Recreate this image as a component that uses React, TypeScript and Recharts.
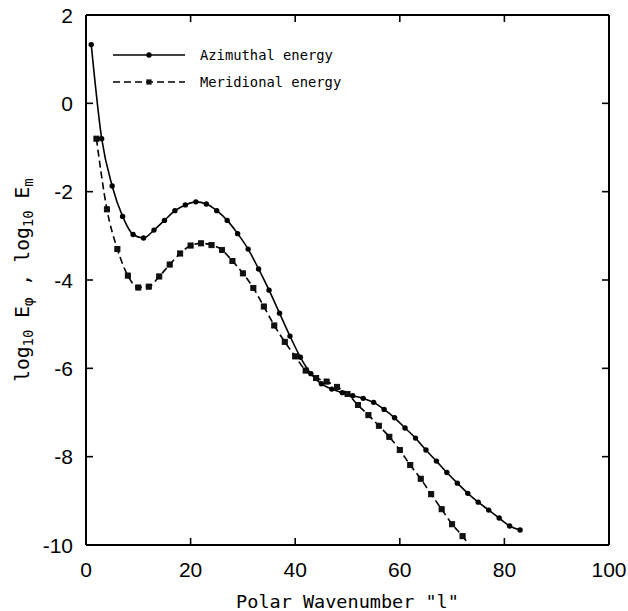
import React from 'react';
import { LineChart, Line, XAxis, YAxis, Legend } from 'recharts';

// Polar wavenumber l and log10 energies
const azimuthalL = [1, 3, 5, 7, 9, 11, 13, 15, 17, 19, 21, 23, 25, 27, 29, 31, 33, 35, 37, 39, 41, 43, 45, 47, 49, 51, 53, 55, 57, 59, 61, 63, 65, 67, 69, 71, 73, 75, 77, 79, 81, 83];
const azimuthalE = [1.33, -0.8, -1.87, -2.56, -2.97, -3.05, -2.87, -2.65, -2.43, -2.3, -2.23, -2.28, -2.43, -2.65, -2.95, -3.3, -3.75, -4.23, -4.75, -5.27, -5.75, -6.12, -6.35, -6.47, -6.55, -6.62, -6.68, -6.77, -6.93, -7.12, -7.35, -7.58, -7.85, -8.1, -8.36, -8.6, -8.83, -9.03, -9.21, -9.39, -9.57, -9.66];

const meridionalL = [2, 4, 6, 8, 10, 12, 14, 16, 18, 20, 22, 24, 26, 28, 30, 32, 34, 36, 38, 40, 42, 44, 46, 48, 50, 52, 54, 56, 58, 60, 62, 64, 66, 68, 70, 72, 74];
const meridionalE = [-0.8, -2.4, -3.3, -3.9, -4.17, -4.15, -3.92, -3.65, -3.4, -3.22, -3.17, -3.21, -3.32, -3.57, -3.85, -4.18, -4.6, -5.03, -5.4, -5.73, -6.05, -6.22, -6.3, -6.42, -6.58, -6.83, -7.06, -7.3, -7.55, -7.85, -8.19, -8.5, -8.85, -9.19, -9.53, -9.8, -10.12];

const xTicks = [0, 20, 40, 60, 80, 100];
const yTicks = [2, 0, -2, -4, -6, -8, -10];

const seriesNames = ['Azimuthal energy', 'Meridional energy'];
const xTitle = 'Polar Wavenumber "l"';

const azData = azimuthalL.map((l, i) => ({ l, e: azimuthalE[i] }));
const merData = meridionalL.map((l, i) => ({ l, e: meridionalE[i] }));

const MONO = '"DejaVu Sans Mono", monospace';
const SANS = '"Liberation Sans", Arial, sans-serif';

const XTickBottom = (props: any) => {
  const { x, y, payload } = props;
  const v = payload.value;
  return (
    <g>
      {v > 0 && v < 100 && <line x1={x} x2={x} y1={y} y2={y - 7} stroke="#000" strokeWidth={1.6} />}
      <text x={x} y={y + 32} textAnchor="middle" fontFamily={SANS} fontSize={21} fill="#000">{v}</text>
    </g>
  );
};

const XTickTop = (props: any) => {
  const { x, y, payload } = props;
  const v = payload.value;
  if (v <= 0 || v >= 100) return <g />;
  return <line x1={x} x2={x} y1={y} y2={y + 7} stroke="#000" strokeWidth={1.6} />;
};

const YTickLeft = (props: any) => {
  const { x, y, payload } = props;
  const v = payload.value;
  return (
    <g>
      {v < 2 && v > -10 && <line x1={x} x2={x + 7} y1={y} y2={y} stroke="#000" strokeWidth={1.6} />}
      <text x={x - 13} y={y + 7.5} textAnchor="end" fontFamily={SANS} fontSize={21} fill="#000">{v}</text>
    </g>
  );
};

const YTickRight = (props: any) => {
  const { x, y, payload } = props;
  const v = payload.value;
  if (v >= 2 || v <= -10) return <g />;
  return <line x1={x} x2={x - 7} y1={y} y2={y} stroke="#000" strokeWidth={1.6} />;
};

const CircleDot = (p: any) => (
  <circle key={`a${p.index}`} cx={p.cx} cy={p.cy} r={2.7} fill="#000" stroke="none" />
);
const SquareDot = (p: any) => (
  <rect key={`m${p.index}`} x={p.cx - 2.6} y={p.cy - 2.6} width={5.2} height={5.2} fill="#111" stroke="#000" strokeWidth={0.8} />
);

const LegendBox = () => (
  <svg width={260} height={56} style={{ display: 'block' }}>
    <line x1={13} x2={85} y1={15} y2={15} stroke="#000" strokeWidth={1.6} />
    <circle cx={49} cy={15} r={2.7} fill="#000" />
    <text x={100} y={15} dominantBaseline="central" fontFamily={MONO} fontSize={13.8} fill="#000">{seriesNames[0]}</text>
    <line x1={13} x2={85} y1={42} y2={42} stroke="#000" strokeWidth={1.6} strokeDasharray="7 4" />
    <rect x={46.4} y={39.4} width={5.2} height={5.2} fill="#111" />
    <text x={100} y={42} dominantBaseline="central" fontFamily={MONO} fontSize={13.8} fill="#000">{seriesNames[1]}</text>
  </svg>
);

const XTitle = (props: any) => {
  const vb = props.viewBox || {};
  return (
    <text x={vb.x + vb.width / 2} y={608} textAnchor="middle" fontFamily={MONO} fontSize={18.5} fill="#000">{xTitle}</text>
  );
};

const YTitle = (props: any) => {
  const vb = props.viewBox || {};
  const cy = vb.y + vb.height / 2;
  return (
    <text transform={`translate(29, ${cy}) rotate(-90)`} x={0} y={0} textAnchor="middle" fontFamily={MONO} fontSize={19.5} fill="#000">
      log<tspan fontSize={14} dy={4}>10</tspan>
      <tspan dy={-4}> E</tspan>
      <tspan fontSize={14} dy={4}>φ</tspan>
      <tspan dy={-4}> ,  log</tspan>
      <tspan fontSize={14} dy={4}>10</tspan>
      <tspan dy={-4}> E</tspan>
      <tspan fontSize={14} dy={4}>m</tspan>
    </text>
  );
};

export default function App() {
  return (
    <div style={{ position: 'absolute', left: 0, top: 0, width: 628, height: 611, background: '#fff' }}>
      <LineChart width={628} height={611} margin={{ top: 14, right: 18, left: 0, bottom: 6 }}>
        <XAxis
          xAxisId="b"
          type="number"
          dataKey="l"
          domain={[0, 100]}
          ticks={xTicks}
          interval={0}
          allowDataOverflow
          tickSize={0}
          tickMargin={0}
          tickLine={false}
          tick={XTickBottom}
          axisLine={{ stroke: '#000', strokeWidth: 2 }}
          height={60}
          label={XTitle}
        />
        <XAxis
          xAxisId="t"
          orientation="top"
          type="number"
          dataKey="l"
          domain={[0, 100]}
          ticks={xTicks}
          interval={0}
          allowDataOverflow
          tickSize={0}
          tickMargin={0}
          tickLine={false}
          tick={XTickTop}
          axisLine={{ stroke: '#000', strokeWidth: 2 }}
          height={1}
        />
        <YAxis
          yAxisId="l"
          type="number"
          domain={[-10, 2]}
          ticks={yTicks}
          interval={0}
          allowDataOverflow
          tickSize={0}
          tickMargin={0}
          tickLine={false}
          tick={YTickLeft}
          axisLine={{ stroke: '#000', strokeWidth: 2 }}
          width={86}
          label={YTitle}
        />
        <YAxis
          yAxisId="r"
          orientation="right"
          type="number"
          domain={[-10, 2]}
          ticks={yTicks}
          interval={0}
          allowDataOverflow
          tickSize={0}
          tickMargin={0}
          tickLine={false}
          tick={YTickRight}
          axisLine={{ stroke: '#000', strokeWidth: 2 }}
          width={1}
        />
        <Legend
          layout="vertical"
          align="center"
          verticalAlign="middle"
          content={() => <LegendBox />}
          wrapperStyle={{ position: 'absolute', left: 100, top: 40, width: 260, height: 56 }}
        />
        <Line
          data={azData}
          dataKey="e"
          xAxisId="t"
          yAxisId="r"
          stroke="none"
          dot={false}
          activeDot={false}
          legendType="none"
          isAnimationActive={false}
        />
        <Line
          name={seriesNames[0]}
          data={azData}
          dataKey="e"
          xAxisId="b"
          yAxisId="l"
          type="monotone"
          stroke="#000"
          strokeWidth={1.6}
          dot={CircleDot}
          activeDot={false}
          isAnimationActive={false}
        />
        <Line
          name={seriesNames[1]}
          data={merData}
          dataKey="e"
          xAxisId="b"
          yAxisId="l"
          type="monotone"
          stroke="#000"
          strokeWidth={1.6}
          strokeDasharray="7 4"
          dot={SquareDot}
          activeDot={false}
          isAnimationActive={false}
        />
      </LineChart>
    </div>
  );
}
